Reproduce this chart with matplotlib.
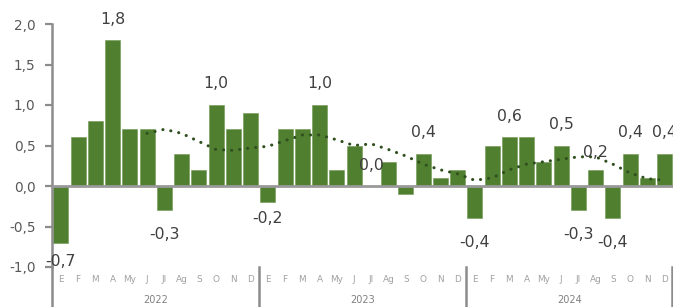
import matplotlib
matplotlib.use("Agg")
import matplotlib.pyplot as plt
from matplotlib.lines import Line2D

plt.rcParams['font.family'] = ['DejaVu Sans']

months = ['E', 'F', 'M', 'A', 'My', 'J', 'Jl', 'Ag', 'S', 'O', 'N', 'D']
years = ['2022', '2023', '2024']
values = [-0.7, 0.6, 0.8, 1.8, 0.7, 0.7, -0.3, 0.4, 0.2, 1.0, 0.7, 0.9,
          -0.2, 0.7, 0.7, 1.0, 0.2, 0.5, 0.0, 0.3, -0.1, 0.4, 0.1, 0.2,
          -0.4, 0.5, 0.6, 0.6, 0.3, 0.5, -0.3, 0.2, -0.4, 0.4, 0.1, 0.4]
trend_start = 5
trend = [0.65, 0.70, 0.65, 0.55, 0.45, 0.44, 0.47,
         0.49, 0.56, 0.63, 0.63, 0.57, 0.50, 0.52, 0.45, 0.37, 0.27, 0.20, 0.15,
         0.07, 0.10, 0.20, 0.27, 0.30, 0.33, 0.36, 0.36, 0.27, 0.16, 0.09, 0.07]
labeled = [0, 3, 6, 9, 12, 15, 18, 21, 24, 26, 29, 30, 31, 32, 33, 35]
yticks = [-1.0, -0.5, 0.0, 0.5, 1.0, 1.5, 2.0]

W, H = 673, 307
fig = plt.figure(figsize=(W / 100, H / 100), dpi=100)
ax_left, ax_right = 52.2, 673.2
y_top, y_bot = 24, 267
ax = fig.add_axes([ax_left / W, (H - y_bot) / H, (ax_right - ax_left) / W, (y_bot - y_top) / H])

n = len(values)
x = list(range(n))
bar_color = '#4f7f2f'
ax.bar(x, values, width=0.87, color=bar_color, edgecolor='#6f9a55', linewidth=0.4, zorder=2)

tx = list(range(trend_start, trend_start + len(trend)))
ax.plot(tx, trend, color='#2f4f1f', linewidth=2.2, linestyle=(0, (0.05, 2.6)),
        dash_capstyle='round', zorder=3)

ax.set_xlim(-0.5, n - 0.5)
ax.set_ylim(-1.0, 2.0)
ax.set_yticks(yticks)
ax.set_yticklabels([f"{v:.1f}".replace('.', ',') for v in yticks], fontsize=9.8, color='#595959')
ax.tick_params(axis='y', length=5, width=1.6, color='#8c8c8c', pad=7, direction='out')
ax.set_xticks([])

for s in ['top', 'right', 'bottom']:
    ax.spines[s].set_visible(False)
ax.spines['left'].set_color('#8c8c8c')
ax.spines['left'].set_linewidth(1.8)
ax.spines['left'].set_bounds(-1.0, 2.0)

ax.axhline(0, color='#999999', linewidth=2.0, zorder=4)

# data labels
special = {18: 21, 31: 17, 12: -16, 0: -19}
for i in labeled:
    v = values[i]
    if i in special:
        off = special[i]
    elif v >= 0:
        off = 21
    else:
        off = -24
    txt = f"{v:.1f}".replace('.', ',')
    ax.annotate(txt, (i, v), xytext=(0, off * 0.72), textcoords='offset points',
                ha='center', va='center', fontsize=11.3, color='#404040',
                zorder=5, annotation_clip=False)

# month and year labels below
for i in range(n):
    fig.text((ax_left + (i + 0.5) * (ax_right - ax_left) / n) / W, (H - 280) / H,
             months[i % 12], ha='center', va='center', fontsize=6.4, color='#a0a0a0')
for k, yr in enumerate(years):
    xc = ax_left + (k * 12 + 6) * (ax_right - ax_left) / n
    fig.text(xc / W, (H - 300) / H, yr, ha='center', va='center', fontsize=7.0, color='#808080')
for k in range(len(years) + 1):
    xs = (ax_left + k * 12 * (ax_right - ax_left) / n) / W
    xs = min(xs, (W - 1) / W)
    fig.add_artist(Line2D([xs, xs], [0, (H - y_bot) / H], color='#8c8c8c', linewidth=1.8,
                          transform=fig.transFigure))

fig.savefig('out.png', dpi=100)
